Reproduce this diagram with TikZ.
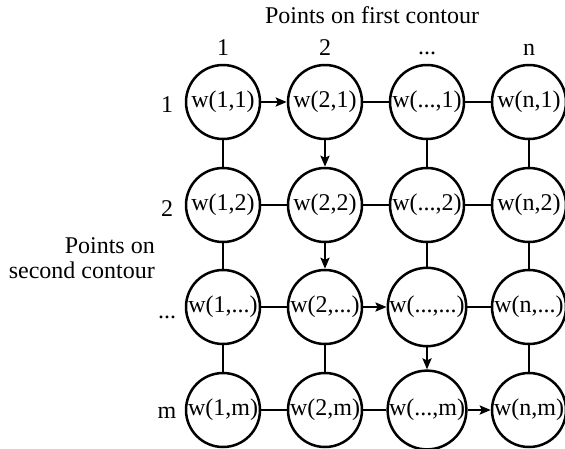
\documentclass[tikz,border=0pt]{standalone}
\usepackage{fontspec}
\setmainfont{Liberation Serif}
\usetikzlibrary{arrows.meta}
\tikzset{
  wnode/.style={draw, circle, line width=2.5pt, minimum size=74pt, inner sep=0pt, font=\fontsize{24}{26}\selectfont},
  lbl/.style={inner sep=0pt, anchor=base, font=\fontsize{24}{26}\selectfont},
  link/.style={line width=2.5pt},
  flow/.style={line width=2.5pt, -{Stealth[length=11pt,width=9pt,inset=2pt]}}
}
\begin{document}
\begin{tikzpicture}[x=1pt,y=-1pt]
\useasboundingbox (0,0) rectangle (565,448);
% grid nodes
\node[wnode] (n11) at (223,102) {w(1,1)};
\node[wnode] (n21) at (325,102) {w(2,1)};
\node[wnode] (n31) at (427,102) {w(...,1)};
\node[wnode] (n41) at (529,102) {w(n,1)};
\node[wnode] (n12) at (223,205) {w(1,2)};
\node[wnode] (n22) at (325,205) {w(2,2)};
\node[wnode] (n32) at (427,205) {w(...,2)};
\node[wnode] (n42) at (529,205) {w(n,2)};
\node[wnode] (n13) at (223,307) {w(1,...)};
\node[wnode] (n23) at (325,307) {w(2,...)};
\node[wnode] (n33) at (427,307) {w(...,...)};
\node[wnode] (n43) at (529,307) {w(n,...)};
\node[wnode] (n14) at (223,410) {w(1,m)};
\node[wnode] (n24) at (325,410) {w(2,m)};
\node[wnode] (n34) at (427,410) {w(...,m)};
\node[wnode] (n44) at (529,410) {w(n,m)};
% labels
\node[lbl] (title) at (372,23) {Points on first contour};
\node[lbl] (col1) at (223,55) {1};
\node[lbl] (col2) at (325,55) {2};
\node[lbl] (col3) at (427,54) {...};
\node[lbl] (col4) at (529,55) {n};
\node[lbl] (row1) at (167,112) {1};
\node[lbl] (row2) at (167,216) {2};
\node[lbl] (row3) at (167,318) {...};
\node[lbl] (row4) at (167,418) {m};
\node[lbl, anchor=base east] (side1) at (155,253) {Points on};
\node[lbl, anchor=base east] (side2) at (155,278) {second contour};
% horizontal connectors
\draw[flow] (n11) -- (n21);
\draw[link] (n21) -- (n31);
\draw[link] (n31) -- (n41);
\draw[link] (n12) -- (n22);
\draw[link] (n22) -- (n32);
\draw[link] (n32) -- (n42);
\draw[link] (n13) -- (n23);
\draw[flow] (n23) -- (n33);
\draw[link] (n33) -- (n43);
\draw[link] (n14) -- (n24);
\draw[link] (n24) -- (n34);
\draw[flow] (n34) -- (n44);
% vertical connectors
\draw[link] (n11) -- (n12);
\draw[flow] (n21) -- (n22);
\draw[link] (n31) -- (n32);
\draw[link] (n41) -- (n42);
\draw[link] (n12) -- (n13);
\draw[flow] (n22) -- (n23);
\draw[link] (n32) -- (n33);
\draw[link] (n42) -- (n43);
\draw[link] (n13) -- (n14);
\draw[link] (n23) -- (n24);
\draw[flow] (n33) -- (n34);
\draw[link] (n43) -- (n44);
\end{tikzpicture}
\end{document}
